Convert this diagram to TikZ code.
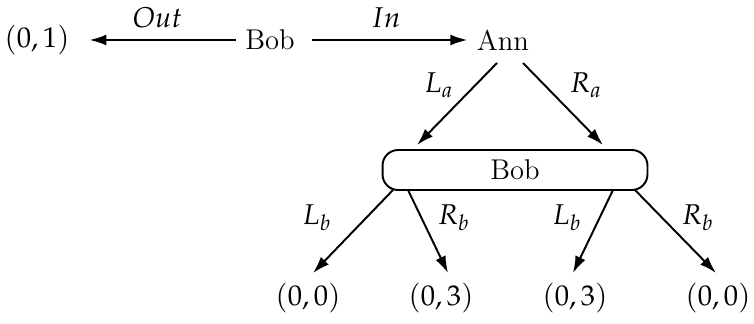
\documentclass[tikz,border=0pt]{standalone}
\usepackage{amsmath}
\usepackage{mathpazo}
\usepackage{tikz}
\usetikzlibrary{arrows.meta}

\begin{document}
\begin{tikzpicture}[x=0.385pt, y=-0.385pt, line width=0.75pt,
	every node/.style={font=\fontsize{11}{14}\selectfont},
	arr/.style={-{Latex[length=6.5pt,width=4.2pt]}}]
	\useasboundingbox (0,0) rectangle (754,324);
	% Define nodes of the game
	\node (O1) at (37,40) {$(0,1)$};
	\node (B1) at (270,40) {Bob};
	\node (A) at (503,40) {Ann};
	\node[draw, rounded corners=6pt, minimum width=102pt, minimum height=15.4pt] (I) at (515,170) {Bob};
	\node (P1) at (308,298) {$(0,0)$};
	\node (P2) at (441,298) {$(0,3)$};
	\node (P3) at (575,298) {$(0,3)$};
	\node (P4) at (718,298) {$(0,0)$};
	
	% Define coordinates
	\coordinate (AL) at (497,63);
	\coordinate (AR) at (523,63);
	\coordinate (IL) at (417,145);
	\coordinate (IR) at (603,145);
	\coordinate (S1) at (393,190);
	\coordinate (S2) at (408,190);
	\coordinate (S3) at (613,190);
	\coordinate (S4) at (635,190);
	\coordinate (E1) at (313,273);
	\coordinate (E2) at (448,273);
	\coordinate (E3) at (573,273);
	\coordinate (E4) at (716,273);
	
	% Draw the moves
	\draw[arr, shorten >=4pt] (B1) -- (O1) node[midway, above=1pt] {$Out$};
	\draw[arr, shorten <=3pt] (B1) -- (A) node[midway, above=1pt] {$In$};
	\draw[arr] (AL) -- (IL) node[pos=0.27, left=4.7pt] {$L_a$};
	\draw[arr] (AR) -- (IR) node[pos=0.27, right=6pt] {$R_a$};
	\draw[arr] (S1) -- (E1) node[pos=0.33, left=9.7pt] {$L_b$};
	\draw[arr] (S2) -- (E2) node[pos=0.33, right=2.7pt] {$R_b$};
	\draw[arr] (S3) -- (E3) node[pos=0.33, left=3.2pt] {$L_b$};
	\draw[arr] (S4) -- (E4) node[pos=0.33, right=4pt] {$R_b$};
\end{tikzpicture}
\end{document}
